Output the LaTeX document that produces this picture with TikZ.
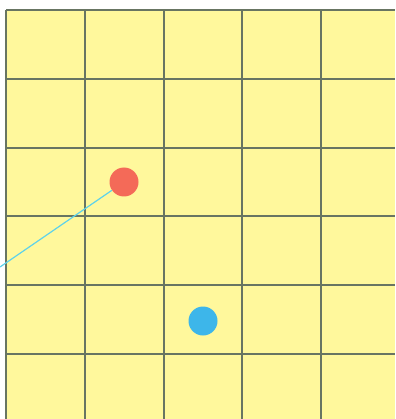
\documentclass[tikz,border=0pt]{standalone}
\definecolor{padyellow}{HTML}{FFF89C}
\definecolor{gridgray}{HTML}{687562}
\definecolor{dotred}{HTML}{F46A58}
\definecolor{dotblue}{HTML}{3DB6EA}
\definecolor{raycyan}{HTML}{5ED2EA}
\tikzset{
  gridline/.style={draw=gridgray, line width=2pt},
  dot/.style={circle, inner sep=0pt, minimum size=29pt},
  ray/.style={draw=raycyan, line width=1.2pt}
}
\begin{document}
\begin{tikzpicture}[x=1pt, y=-1pt]

% Paper and margins
\useasboundingbox (0,0) rectangle (395,419);
\fill[padyellow] (6,10) rectangle (395,419);

% Draw grid
\foreach \x in {6,84.75,163.5,242.25,321}
  \draw[gridline] (\x,10) -- (\x,419);
\foreach \y in {10,78.8,147.6,216.4,285.2,354}
  \draw[gridline] (6,\y) -- (395,\y);

% Dots
\node[dot, fill=dotred] (redDot) at (124,182) {};
\node[dot, fill=dotblue] (blueDot) at (203,321) {};

% Ray to the red dot
\coordinate (rayStart) at (0,267);
\draw[ray] (rayStart) -- (redDot);

\end{tikzpicture}
\end{document}
